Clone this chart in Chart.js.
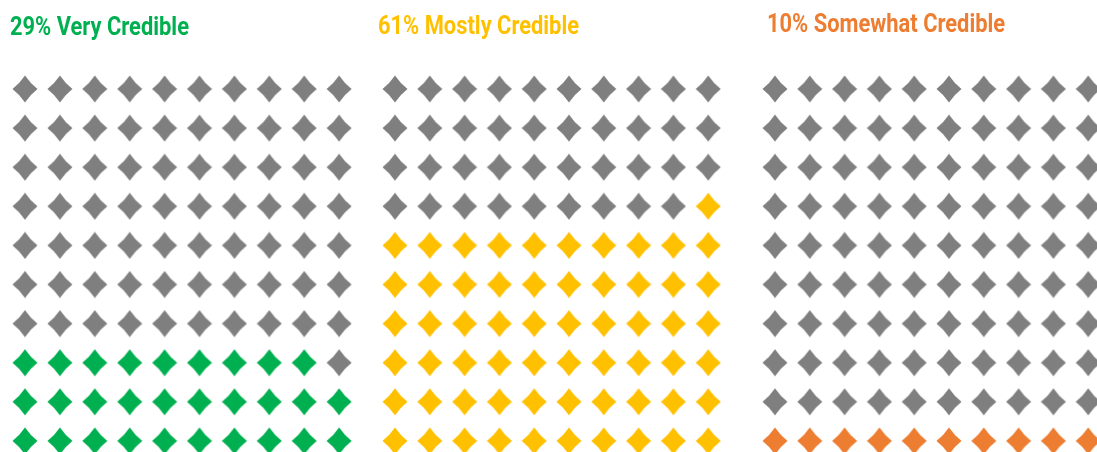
<!DOCTYPE html>
<html>
<head>
<meta charset="utf-8">
<script src="https://cdn.jsdelivr.net/npm/chart.js@4.4.1/dist/chart.umd.min.js"></script>
<style>
  html, body { margin: 0; padding: 0; background: #fff; overflow: hidden; width: 1097px; height: 452px; }
  canvas.panel { position: absolute; top: 0; }
</style>
</head>
<body>
<canvas id="veryChart" class="panel"></canvas>
<canvas id="mostlyChart" class="panel"></canvas>
<canvas id="somewhatChart" class="panel"></canvas>
<script>
// credibility ratings, one 10x10 waffle per category
const categories = ['Very Credible', 'Mostly Credible', 'Somewhat Credible'];
const percentages = [29, 61, 10];
const colors = ['#00B050', '#FFC000', '#ED7D31'];
const fillFrom = ['left', 'right', 'left']; // side the partial row starts on
const emptyColor = '#7F7F7F';
const gridSize = 10;

// where each panel sits: first column centre, column pitch, title position
const panels = [
    { id: 'veryChart', col0: 25, pitch: 34.9, titleX: 10, titleY: 35 },
    { id: 'mostlyChart', col0: 395, pitch: 34.8, titleX: 378, titleY: 34 },
    { id: 'somewhatChart', col0: 775, pitch: 34.8, titleX: 767, titleY: 32 }
];
const rowTop = 89;     // centre of the top row
const rowPitch = 39.1;
const canvasW = 400;
const canvasH = 470;

// split the grid into filled and empty cells, bottom row first
function waffleCells(pct, from) {
    const filled = [], empty = [];
    for (let k = 0; k < gridSize * gridSize; k++) {
        const row = Math.floor(k / gridSize);
        let col = k % gridSize;
        if (from === 'right') col = gridSize - 1 - col;
        (k < pct ? filled : empty).push({ x: col, y: row });
    }
    return { filled, empty };
}

// diamond marker with slightly pinched sides
function diamond(color) {
    const w = 26, h = 28, k = 1.3;
    const c = document.createElement('canvas');
    c.width = w; c.height = h;
    const g = c.getContext('2d');
    const cx = w / 2, cy = h / 2;
    g.fillStyle = color;
    g.beginPath();
    g.moveTo(cx, 0.5);
    g.quadraticCurveTo(cx + w / 4 - k, h / 4 + k, w - 0.5, cy);
    g.quadraticCurveTo(cx + w / 4 - k, cy + h / 4 - k, cx, h - 0.5);
    g.quadraticCurveTo(w / 4 + k, cy + h / 4 - k, 0.5, cy);
    g.quadraticCurveTo(w / 4 + k, h / 4 + k, cx, 0.5);
    g.closePath();
    g.fill();
    return c;
}

// condensed bold heading above each grid
const headingPlugin = {
    id: 'heading',
    afterDraw(chart, args, opts) {
        const ctx = chart.ctx;
        ctx.save();
        ctx.font = 'bold 25px Roboto';
        ctx.fillStyle = opts.color;
        ctx.textBaseline = 'alphabetic';
        ctx.translate(opts.x, opts.y);
        ctx.scale(0.875, 1);
        ctx.fillText(opts.text, 0, 0);
        ctx.restore();
    }
};

function build() {
    panels.forEach((p, i) => {
        const canvas = document.getElementById(p.id);
        const left = p.col0 - 20;
        canvas.width = canvasW;
        canvas.height = canvasH;
        canvas.style.left = left + 'px';

        const cells = waffleCells(percentages[i], fillFrom[i]);
        const padL = 20 - p.pitch / 2;
        const padT = rowTop - rowPitch / 2;

        new Chart(canvas, {
            type: 'scatter',
            data: {
                datasets: [
                    { data: cells.filled, pointStyle: diamond(colors[i]), pointRadius: 13 },
                    { data: cells.empty, pointStyle: diamond(emptyColor), pointRadius: 13 }
                ]
            },
            options: {
                responsive: false,
                animation: false,
                events: [],
                layout: {
                    autoPadding: false,
                    padding: {
                        left: padL,
                        right: canvasW - padL - p.pitch * gridSize,
                        top: padT,
                        bottom: canvasH - padT - rowPitch * gridSize
                    }
                },
                scales: {
                    x: { display: false, min: -0.5, max: gridSize - 0.5 },
                    y: { display: false, min: -0.5, max: gridSize - 0.5 }
                },
                plugins: {
                    legend: { display: false },
                    tooltip: { enabled: false },
                    heading: {
                        text: percentages[i] + '% ' + categories[i],
                        color: colors[i],
                        x: p.titleX - left,
                        y: p.titleY
                    }
                }
            },
            plugins: [headingPlugin]
        });
    });
}

document.fonts.load('bold 25px Roboto').then(build, build);
</script>
</body>
</html>
